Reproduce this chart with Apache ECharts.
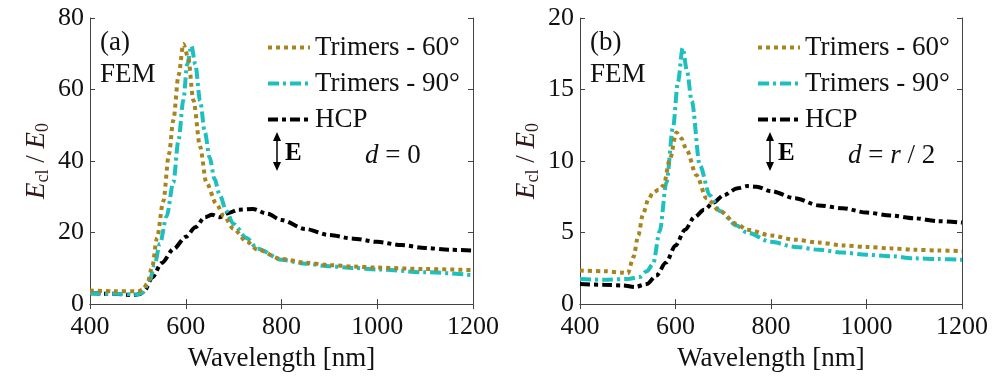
<!DOCTYPE html>
<html>
<head>
<meta charset="utf-8">
<script src="https://cdn.jsdelivr.net/npm/echarts@6/dist/echarts.min.js"></script>
<style>
  html, body { margin: 0; padding: 0; background: #fff; }
  #chart { width: 993px; height: 377px; }
</style>
</head>
<body>
<div id="chart"></div>
<script>
// panel (a): d = 0
const aTri60Nm = [400, 450, 500, 510, 520, 530, 540, 553, 565, 574, 585, 595, 605, 616, 630, 643, 664, 680, 700, 727, 750, 800, 850, 900, 950, 1000, 1100, 1200];
const aTri60 = [3.8, 3.6, 3.6, 4.0, 5.8, 10.5, 18.5, 28.7, 42, 51.4, 64, 72.7, 69, 57, 44, 34, 28, 24.5, 21, 17.5, 15.2, 12.6, 11.6, 10.9, 10.5, 10.2, 9.8, 9.5];
const aTri90Nm = [400, 450, 500, 510, 525, 535, 546, 560, 574, 585, 595, 603, 612, 620, 630, 640, 650, 660, 671, 685, 699, 727, 750, 800, 850, 900, 950, 1000, 1100, 1200];
const aTri90 = [3.0, 2.9, 2.7, 3.2, 6.9, 11, 16.9, 24.5, 34, 46, 57, 67, 72.2, 67, 56.8, 48, 41, 35, 30.5, 26, 22.5, 18.5, 15.5, 12.4, 11.3, 10.6, 10.1, 9.7, 8.9, 8.1];
const aHcpNm = [400, 450, 490, 505, 515, 530, 550, 575, 600, 620, 640, 655, 670, 690, 710, 740, 770, 800, 850, 900, 950, 1000, 1050, 1100, 1150, 1200];
const aHcp = [3.0, 2.9, 2.5, 2.8, 4.0, 7.5, 11.5, 15.5, 18.8, 21.5, 24.3, 25, 24.3, 25.5, 26.4, 26.6, 25.3, 23.5, 21, 19.3, 18.3, 17.4, 16.5, 15.7, 15.2, 15.0];

// panel (b): d = r / 2
const bTri60Nm = [400, 450, 490, 500, 512, 522, 532, 543, 553, 565, 575, 588, 602, 612, 623, 644, 665, 693, 728, 750, 800, 850, 900, 950, 1000, 1050, 1100, 1150, 1200];
const bTri60 = [2.35, 2.3, 2.2, 2.15, 3.3, 4.8, 6.3, 7.3, 7.8, 8.0, 8.3, 10.1, 12.0, 11.6, 10.8, 9.0, 7.4, 6.5, 5.6, 5.2, 4.8, 4.5, 4.3, 4.1, 4.0, 3.9, 3.8, 3.75, 3.7];
const bTri90Nm = [400, 450, 500, 525, 540, 553, 567, 581, 595, 605, 615, 624, 634, 651, 672, 693, 728, 750, 800, 850, 900, 950, 1000, 1050, 1100, 1150, 1200];
const bTri90 = [1.75, 1.7, 1.75, 1.9, 2.3, 2.8, 5.1, 8.5, 12.4, 15.5, 17.9, 16.3, 14.2, 9.7, 7.6, 6.5, 5.5, 5.0, 4.35, 4.0, 3.8, 3.6, 3.45, 3.35, 3.2, 3.15, 3.1];
const bHcpNm = [400, 450, 490, 515, 540, 560, 580, 600, 620, 640, 660, 680, 700, 730, 750, 770, 800, 850, 900, 950, 1000, 1050, 1100, 1150, 1200];
const bHcp = [1.4, 1.35, 1.3, 1.2, 1.4, 2.0, 2.9, 4.1, 5.2, 6.1, 6.6, 7.1, 7.6, 8.1, 8.25, 8.2, 7.9, 7.4, 6.9, 6.7, 6.4, 6.2, 6.0, 5.8, 5.7];

const X_TICKS = [400, 600, 800, 1000, 1200];
const Y_MAX_A = 80, Y_STEP_A = 20;
const Y_MAX_B = 20, Y_STEP_B = 5;
const SERIES_NAMES = ["Trimers - 60°", "Trimers - 90°", "HCP"];

const SERIF = "'Liberation Serif', 'Times New Roman', serif";
const GOLD = "#a8841e";
const CYAN = "#1ebfbf";
const BLACK = "#000000";
const AXIS_COLOR = "#444";

const LINE_STYLES = [
  { color: GOLD, width: 4, type: [4, 4] },
  { color: CYAN, width: 4, type: [11, 4, 3, 4] },
  { color: BLACK, width: 4, type: [10, 4, 4, 4] },
];

function pairs(xs, ys) {
  return xs.map((x, i) => [x, ys[i]]);
}

function makeX(gridIndex, top) {
  return {
    type: "value",
    gridIndex,
    position: top ? "top" : "bottom",
    min: X_TICKS[0],
    max: X_TICKS[X_TICKS.length - 1],
    interval: 200,
    name: top ? "" : "Wavelength [nm]",
    nameLocation: "middle",
    nameGap: 32,
    nameTextStyle: { fontFamily: SERIF, fontSize: 27, color: "#111" },
    axisLine: { show: true, lineStyle: { color: AXIS_COLOR, width: 1 } },
    axisTick: { show: true, inside: true, length: 5, lineStyle: { color: AXIS_COLOR } },
    axisLabel: {
      show: !top,
      fontFamily: SERIF,
      fontSize: 26,
      color: "#111",
      margin: 10,
      showMinLabel: true,
      showMaxLabel: true,
      formatter: (v) => String(v),
    },
    splitLine: { show: false },
  };
}

function makeY(gridIndex, right, max, step) {
  return {
    type: "value",
    gridIndex,
    position: right ? "right" : "left",
    min: 0,
    max,
    interval: step,
    name: right ? "" : "{i|E}{s|cl}{n| / }{i|E}{s|0}",
    nameLocation: "middle",
    nameGap: 38,
    nameTextStyle: {
      rich: {
        i: { fontFamily: SERIF, fontStyle: "italic", fontSize: 27, color: "#301818", lineHeight: 30 },
        n: { fontFamily: SERIF, fontSize: 27, color: "#301818", lineHeight: 30 },
        s: { fontFamily: SERIF, fontSize: 18, color: "#301818", lineHeight: 12, verticalAlign: "bottom" },
      },
    },
    axisLine: { show: true, lineStyle: { color: AXIS_COLOR, width: 1 } },
    axisTick: { show: true, inside: true, length: 5, lineStyle: { color: AXIS_COLOR } },
    axisLabel: {
      show: !right,
      fontFamily: SERIF,
      fontSize: 26,
      color: "#111",
      margin: 6,
    },
    splitLine: { show: false },
  };
}

function makeSeries(xIndex, yIndex, datasets) {
  return datasets.map((d, i) => ({
    name: SERIES_NAMES[i],
    type: "line",
    xAxisIndex: xIndex,
    yAxisIndex: yIndex,
    data: d,
    showSymbol: false,
    symbol: "none",
    smooth: 0.3,
    smoothMonotone: "x",
    lineStyle: LINE_STYLES[i],
    itemStyle: { color: LINE_STYLES[i].color },
    z: 3 - i,
  }));
}

function makeLegend(left) {
  return {
    left,
    top: 29,
    orient: "vertical",
    itemWidth: 42,
    itemHeight: 14,
    itemGap: 9,
    data: SERIES_NAMES,
    itemStyle: { color: "transparent", borderWidth: 0, opacity: 0 },
    lineStyle: { width: 4 },
    textStyle: { fontFamily: SERIF, fontSize: 27, color: "#111", lineHeight: 26 },
    selectedMode: false,
  };
}

function annotations(x0, tag, arrowX, dLabelX, dRich) {
  const font = "27px " + SERIF;
  return [
    { type: "text", left: x0, top: 29, style: { text: tag, font, fill: "#111" } },
    { type: "text", left: x0, top: 61, style: { text: "FEM", font, fill: "#111" } },
    {
      type: "group",
      children: [
        { type: "line", shape: { x1: arrowX, y1: 138, x2: arrowX, y2: 165 }, style: { stroke: "#000", lineWidth: 1.5 } },
        { type: "polygon", shape: { points: [[arrowX - 4, 141], [arrowX, 132], [arrowX + 4, 141]] }, style: { fill: "#000" } },
        { type: "polygon", shape: { points: [[arrowX - 4, 162], [arrowX, 171], [arrowX + 4, 162]] }, style: { fill: "#000" } },
      ],
    },
    { type: "text", left: arrowX + 8, top: 141, style: { text: "E", font: "bold 25px " + SERIF, fill: "#000" } },
    {
      type: "text",
      left: dLabelX,
      top: 142,
      style: {
        text: dRich,
        fill: "#111",
        rich: {
          i: { fontFamily: SERIF, fontStyle: "italic", fontSize: 27, fill: "#111" },
          n: { fontFamily: SERIF, fontSize: 27, fill: "#111" },
        },
      },
    },
  ];
}

const chart = echarts.init(document.getElementById("chart"), null, { renderer: "canvas" });

chart.setOption({
  backgroundColor: "#ffffff",
  animation: false,
  grid: [
    { left: 90, right: 520, top: 18, bottom: 65 },
    { left: 580, right: 31, top: 18, bottom: 65 },
  ],
  xAxis: [makeX(0, false), makeX(0, true), makeX(1, false), makeX(1, true)],
  yAxis: [
    makeY(0, false, Y_MAX_A, Y_STEP_A),
    makeY(0, true, Y_MAX_A, Y_STEP_A),
    makeY(1, false, Y_MAX_B, Y_STEP_B),
    makeY(1, true, Y_MAX_B, Y_STEP_B),
  ],
  legend: [makeLegend(261), makeLegend(751)],
  series: [
    ...makeSeries(0, 0, [pairs(aTri60Nm, aTri60), pairs(aTri90Nm, aTri90), pairs(aHcpNm, aHcp)]),
    ...makeSeries(2, 2, [pairs(bTri60Nm, bTri60), pairs(bTri90Nm, bTri90), pairs(bHcpNm, bHcp)]),
  ],
  graphic: [
    ...annotations(100, "(a)", 277, 365, "{i|d}{n| = 0}"),
    ...annotations(590, "(b)", 770, 848, "{i|d}{n| = }{i|r}{n| / 2}"),
  ],
});
</script>
</body>
</html>
